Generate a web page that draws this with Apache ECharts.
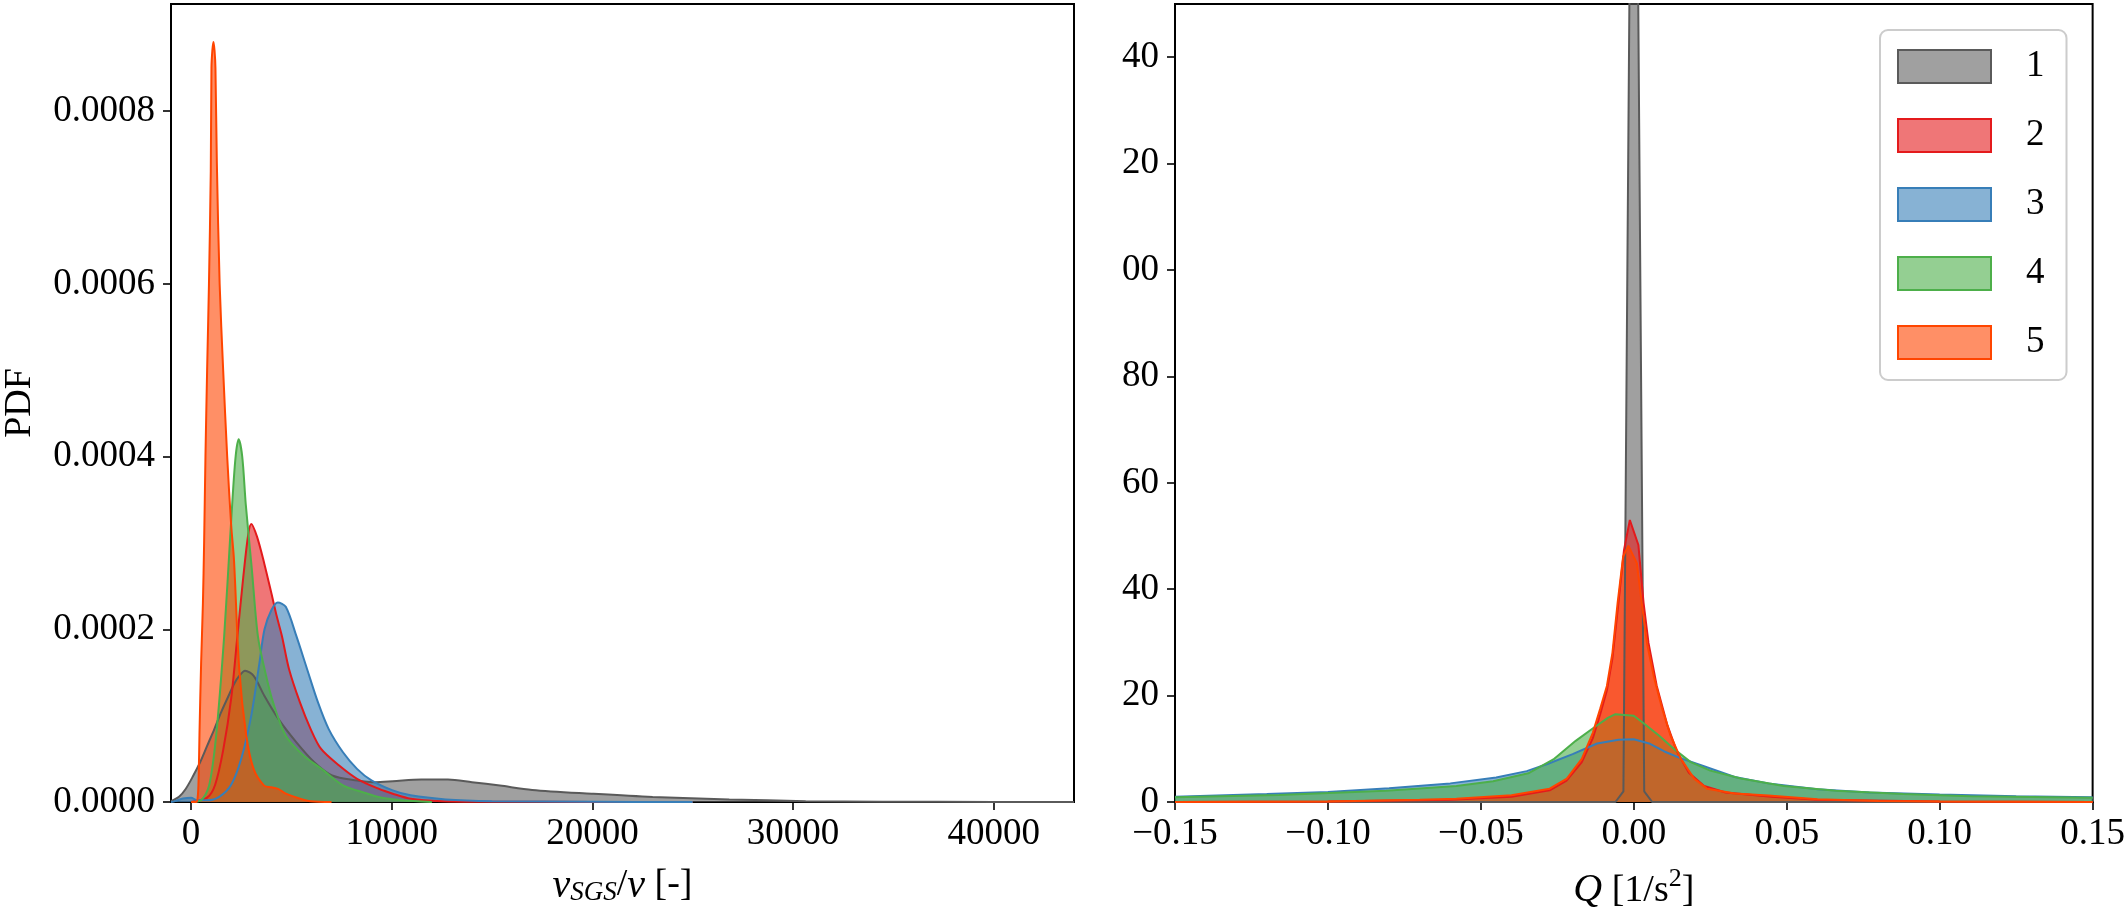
<!DOCTYPE html>
<html>
<head>
<meta charset="utf-8">
<script src="https://cdn.jsdelivr.net/npm/echarts@6/dist/echarts.min.js"></script>
<style>
  html, body { margin: 0; padding: 0; background: #fff; }
  #chart { width: 2128px; height: 915px; }
</style>
</head>
<body>
<div id="chart"></div>
<script>
// ---------- data ----------
const seriesNames = ['1', '2', '3', '4', '5'];

// Left panel: PDF of nu_SGS / nu   ([x, pdf])
const leftGray = [[-1000,0.000001],[-600,0.000006],[-260,0.0000154],[100,0.00003],[450,0.000046],[800,0.000065],[1160,0.0000844],[1500,0.000104],[1870,0.000123],[2150,0.000137],[2400,0.000146],[2690,0.000152],[3120,0.000146],[3650,0.000123],[4360,0.0000959],[5250,0.000069],[6140,0.000046],[7030,0.0000307],[8270,0.000025],[9160,0.000023],[10050,0.000024],[11470,0.000026],[12800,0.000026],[14000,0.000023],[15390,0.000019],[17000,0.000014],[19960,0.0000096],[23000,0.0000058],[26820,0.000003],[30630,0.000001],[34440,0.0000003],[40000,0.0000001],[44000,0]];
const leftRed = [[0,0],[800,0.000005],[1200,0.00002],[1600,0.00006],[2000,0.00012],[2300,0.00019],[2600,0.00026],[2850,0.00031],[3000,0.000322],[3290,0.000307],[3650,0.000276],[4000,0.000242],[4270,0.000215],[4530,0.000192],[4880,0.000154],[5430,0.000115],[5960,0.0000844],[6480,0.0000614],[7380,0.0000422],[8270,0.0000269],[9340,0.0000154],[10050,0.0000096],[10940,0.0000038],[12500,0.000001],[15000,0.0000003],[20000,0.0000001],[25000,0]];
const leftBlue = [[-1000,0],[-800,0.000001],[-400,0.000004],[0,0.000005],[300,0.000002],[800,0.000002],[1400,0.000006],[2000,0.00002],[2500,0.00005],[3000,0.0001],[3400,0.00016],[3660,0.0002],[4000,0.000222],[4320,0.000231],[4720,0.000226],[5250,0.000192],[5780,0.000154],[6330,0.000115],[6860,0.0000844],[7570,0.0000576],[8270,0.0000384],[8990,0.000025],[10050,0.0000134],[10940,0.0000077],[12700,0.000003],[15000,0.000001],[20000,0.0000002],[25000,0]];
const leftGreen = [[0,0],[500,0.000002],[900,0.000019],[1250,0.000077],[1650,0.000192],[1950,0.000307],[2200,0.000395],[2370,0.00042],[2550,0.0004],[2725,0.000345],[3030,0.000269],[3330,0.000192],[3700,0.00015],[4090,0.000115],[4720,0.0000768],[5610,0.0000537],[6500,0.0000384],[7570,0.0000192],[8270,0.0000134],[9340,0.0000058],[10500,0.000002],[12000,0]];
const leftOrange = [[0,0],[250,0],[330,0.000005],[380,0.00003],[420,0.00008],[500,0.00016],[590,0.00023],[650,0.0003],[717,0.0004],[800,0.0005],[892,0.0006],[982,0.00073],[1016,0.00085],[1060,0.00087],[1115,0.00088],[1170,0.00087],[1215,0.00085],[1285,0.00074],[1424,0.0006],[1600,0.0005],[1800,0.0004],[2000,0.00032],[2140,0.00028],[2400,0.000154],[2750,0.000077],[3120,0.000038],[3640,0.000019],[4000,0.000017],[4360,0.000015],[4720,0.0000096],[5430,0.0000038],[5960,0.0000008],[7000,0]];

// Right panel: PDF of Q   ([x, pdf])
const rightGray = [[-0.15,0],[-0.006,0],[-0.0034,2],[0,260],[0.0034,2],[0.006,0],[0.15,0]];
const rightRed = [[-0.15,0],[-0.1,0.1],[-0.06,0.4],[-0.04,1.0],[-0.0275,2.2],[-0.022,4.0],[-0.017,7.5],[-0.0134,12],[-0.011,16.5],[-0.0088,21],[-0.007,27],[-0.0053,36],[-0.0032,47.4],[-0.0013,53],[0.0015,48.3],[0.0032,37.4],[0.0048,29.9],[0.0075,21.8],[0.011,14.4],[0.014,9.6],[0.018,5.5],[0.023,3.0],[0.03,1.8],[0.045,1.0],[0.06,0.4],[0.1,0.1],[0.15,0]];
const rightBlue = [[-0.15,1.0],[-0.12,1.5],[-0.1,1.9],[-0.08,2.6],[-0.06,3.5],[-0.045,4.6],[-0.035,5.8],[-0.028,7.2],[-0.02,9.0],[-0.012,11.0],[-0.005,11.7],[0,11.8],[0.005,11.0],[0.01,9.5],[0.015,8.3],[0.022,6.9],[0.033,4.7],[0.044,3.5],[0.06,2.4],[0.077,1.8],[0.1,1.4],[0.125,1.1],[0.15,0.9]];
const rightGreen = [[-0.15,0.9],[-0.116,1.3],[-0.081,2.1],[-0.058,3.0],[-0.046,3.9],[-0.0345,5.4],[-0.0263,8.0],[-0.019,11.5],[-0.013,14.0],[-0.0085,15.8],[-0.006,16.5],[-0.002,16.3],[0,16.2],[0.0032,14.8],[0.0082,12.5],[0.0137,9.7],[0.0186,7.5],[0.025,5.9],[0.035,4.4],[0.049,3.0],[0.066,2.1],[0.088,1.5],[0.11,1.1],[0.15,0.8]];
const rightOrange = [[-0.15,0],[-0.1,0.1],[-0.07,0.4],[-0.058,0.6],[-0.04,1.25],[-0.0275,2.5],[-0.0219,4.4],[-0.017,8.1],[-0.0134,13],[-0.011,17.5],[-0.0088,21.8],[-0.007,28],[-0.0053,37.4],[-0.0035,46.1],[-0.0018,48.2],[0.001,44.9],[0.0026,37.4],[0.0043,29.9],[0.0065,23.7],[0.0093,17.5],[0.012,12.5],[0.0153,8.2],[0.0197,4.4],[0.024,2.5],[0.033,1.6],[0.044,1.2],[0.06,0.5],[0.08,0.2],[0.1,0.1],[0.15,0]];

// Tick values and labels
const leftXTicks = [0, 10000, 20000, 30000, 40000];
const leftXTickLabels = ['0', '10000', '20000', '30000', '40000'];
const leftYTicks = [0, 0.0002, 0.0004, 0.0006, 0.0008];
const leftYTickLabels = ['0.0000', '0.0002', '0.0004', '0.0006', '0.0008'];
const rightXTicks = [-0.15, -0.1, -0.05, 0, 0.05, 0.1, 0.15];
const rightXTickLabels = ['\u22120.15', '\u22120.10', '\u22120.05', '0.00', '0.05', '0.10', '0.15'];
const rightYTicks = [0, 20, 40, 60, 80, 100, 120, 140];
const rightYTickLabels = ['0', '20', '40', '60', '80', '00', '20', '40'];

// ---------- styling ----------
const FONT = 'Liberation Serif';
const lineColors = ['#5a5a5a', '#e41a1c', '#377eb8', '#4daf4a', '#ff4500'];
const fillColors = ['rgb(97,97,97)', 'rgb(228,26,28)', 'rgb(55,126,184)', 'rgb(77,175,74)', 'rgb(255,69,0)'];
const fillAlpha = 0.6;
const legendFills = ['rgba(97,97,97,0.6)', 'rgba(228,26,28,0.6)', 'rgba(55,126,184,0.6)', 'rgba(77,175,74,0.6)', 'rgba(255,69,0,0.6)'];

const leftData = [leftGray, leftRed, leftBlue, leftGreen, leftOrange];
const rightData = [rightGray, rightRed, rightBlue, rightGreen, rightOrange];

function labelFrom(ticks, labels) {
  return function (v) {
    for (let i = 0; i < ticks.length; i++) {
      if (Math.abs(ticks[i] - v) <= Math.abs(ticks[1] - ticks[0]) * 1e-6) return labels[i];
    }
    return '';
  };
}

const axisCommon = {
  type: 'value',
  splitLine: { show: false },
  axisLine: { show: true, onZero: false, lineStyle: { color: '#000', width: 2 } },
  nameTextStyle: { fontFamily: FONT, fontSize: 38, color: '#000' }
};
function ticksCfg(vals) {
  return { show: true, customValues: vals, length: 8, inside: false, lineStyle: { color: '#000', width: 1.6 } };
}
function labelsCfg(vals, labels, margin) {
  return { show: true, customValues: vals, formatter: labelFrom(vals, labels), fontFamily: FONT, fontSize: 37, color: '#000', margin: margin };
}

const series = [];
for (let i = 0; i < 5; i++) {
  series.push({
    name: seriesNames[i], type: 'line', xAxisIndex: 0, yAxisIndex: 0,
    data: leftData[i], showSymbol: false, smooth: 0.3, clip: true,
    lineStyle: { color: lineColors[i], width: 2 },
    itemStyle: { color: legendFills[i] },
    areaStyle: { color: fillColors[i], opacity: fillAlpha },
    emphasis: { disabled: true }, silent: true
  });
}
for (let i = 0; i < 5; i++) {
  series.push({
    name: seriesNames[i], type: 'line', xAxisIndex: 1, yAxisIndex: 1,
    data: rightData[i], showSymbol: false, smooth: false, clip: true,
    lineStyle: { color: lineColors[i], width: 2 },
    itemStyle: { color: legendFills[i] },
    areaStyle: { color: fillColors[i], opacity: fillAlpha },
    emphasis: { disabled: true }, silent: true
  });
}

const option = {
  animation: false,
  backgroundColor: '#fff',
  grid: [
    { left: 171, right: 1054, top: 4, bottom: 108, show: true, borderColor: '#000', borderWidth: 2, backgroundColor: 'transparent' },
    { left: 1175, right: 35, top: 4, bottom: 108, show: true, borderColor: '#000', borderWidth: 2, backgroundColor: 'transparent' }
  ],
  legend: {
    data: seriesNames.map((n, i) => ({
      name: n, icon: 'rect',
      itemStyle: { color: legendFills[i], borderColor: lineColors[i], borderWidth: 2 }
    })),
    orient: 'vertical', left: 1880, top: 30,
    itemWidth: 93, itemHeight: 33, itemGap: 32,
    padding: [18, 22, 19, 17],
    backgroundColor: '#fff', borderColor: '#cccccc', borderWidth: 2, borderRadius: 8,
    textStyle: { fontFamily: FONT, fontSize: 37, color: '#000', padding: [0, 0, 0, 30] },
    selectedMode: false
  },
  xAxis: [
    Object.assign({}, axisCommon, {
      gridIndex: 0, min: -1000, max: 44000,
      axisTick: ticksCfg(leftXTicks), axisLabel: labelsCfg(leftXTicks, leftXTickLabels, 14),
      name: '{i|\u03bd}{sub|SGS}{r|/}{i|\u03bd}{r| [-]}', nameLocation: 'middle', nameGap: 64,
      nameTextStyle: {
        fontFamily: FONT, fontSize: 38, color: '#000',
        rich: {
          i: { fontFamily: FONT, fontSize: 40, fontStyle: 'italic', color: '#000', lineHeight: 40, verticalAlign: 'top', padding: [0, 0, 4, 0] },
          r: { fontFamily: FONT, fontSize: 38, color: '#000', lineHeight: 40, verticalAlign: 'top', padding: [0, 0, 4, 0] },
          sub: { fontFamily: FONT, fontSize: 27, fontStyle: 'italic', color: '#000', lineHeight: 27, verticalAlign: 'bottom' }
        }
      }
    }),
    Object.assign({}, axisCommon, {
      gridIndex: 1, min: -0.15, max: 0.15,
      axisTick: ticksCfg(rightXTicks), axisLabel: labelsCfg(rightXTicks, rightXTickLabels, 14),
      name: '{i|Q}{r| [1/s}{sup|2}{r|]}', nameLocation: 'middle', nameGap: 64,
      nameTextStyle: {
        fontFamily: FONT, fontSize: 38, color: '#000',
        rich: {
          i: { fontFamily: FONT, fontSize: 40, fontStyle: 'italic', color: '#000', lineHeight: 44, verticalAlign: 'bottom' },
          r: { fontFamily: FONT, fontSize: 38, color: '#000', lineHeight: 44, verticalAlign: 'bottom' },
          sup: { fontFamily: FONT, fontSize: 26, color: '#000', lineHeight: 26, verticalAlign: 'top' }
        }
      }
    })
  ],
  yAxis: [
    Object.assign({}, axisCommon, {
      gridIndex: 0, min: 0, max: 0.000924,
      axisTick: ticksCfg(leftYTicks), axisLabel: labelsCfg(leftYTicks, leftYTickLabels, 16),
      name: 'PDF', nameLocation: 'middle', nameGap: 132, nameRotate: 90
    }),
    Object.assign({}, axisCommon, {
      gridIndex: 1, min: 0, max: 150,
      axisTick: ticksCfg(rightYTicks), axisLabel: labelsCfg(rightYTicks, rightYTickLabels, 16)
    })
  ],
  series: series
};

const chart = echarts.init(document.getElementById('chart'), null, { renderer: 'canvas' });
chart.setOption(option);
</script>
</body>
</html>
